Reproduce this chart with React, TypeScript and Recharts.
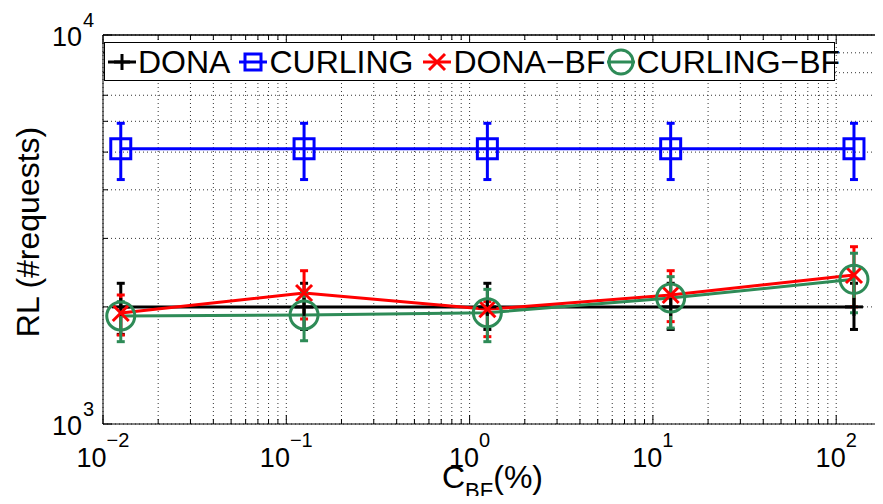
import React from 'react';
import {
  LineChart,
  Line,
  XAxis,
  YAxis,
  CartesianGrid,
  ErrorBar,
  ReferenceLine,
} from 'recharts';

// cache size in % (x) and request latency (y)
const X_VALUES = [0.0125, 0.125, 1.25, 12.5, 125];

const DONA = [2000, 2000, 2000, 2000, 2000];
const DONA_LOW = [1700, 1750, 1750, 1750, 1750];
const DONA_HIGH = [2300, 2300, 2300, 2300, 2300];

const CURLING = [5100, 5100, 5100, 5100, 5100];
const CURLING_LOW = [4250, 4250, 4250, 4250, 4250];
const CURLING_HIGH = [5930, 5930, 5930, 5930, 5930];

const DONA_BF = [1929, 2172, 1972, 2146, 2415];
const DONA_BF_LOW = [1693, 1862, 1677, 1833, 2000];
const DONA_BF_HIGH = [2146, 2478, 2063, 2478, 2856];

const CURLING_BF = [1895, 1906, 1932, 2108, 2355];
const CURLING_BF_LOW = [1628, 1637, 1628, 1765, 1932];
const CURLING_BF_HIGH = [2063, 2188, 2219, 2392, 2748];

// axis ticks (log scale, minor ticks drawn as grid)
const X_TICKS = [
  0.01, 0.02, 0.03, 0.04, 0.05, 0.06, 0.07, 0.08, 0.09,
  0.1, 0.2, 0.3, 0.4, 0.5, 0.6, 0.7, 0.8, 0.9,
  1, 2, 3, 4, 5, 6, 7, 8, 9,
  10, 20, 30, 40, 50, 60, 70, 80, 90,
  100,
];
const X_MAJOR = [0.01, 0.1, 1, 10, 100];
const X_EXP = ['\u22122', '\u22121', '0', '1', '2'];

const Y_TICKS = [1000, 2000, 3000, 4000, 5000, 6000, 7000, 8000, 9000, 10000];
const Y_MAJOR = [1000, 10000];
const Y_EXP = ['3', '4'];

const SERIES_NAMES = ['DONA', 'CURLING', 'DONA\u2212BF', 'CURLING\u2212BF'];

const FONT = '"Liberation Sans", Arial, Helvetica, sans-serif';
const BLACK = '#000000';
const BLUE = '#0000ff';
const RED = '#ff0000';
const GREEN = '#2e8b57';

const data = X_VALUES.map((x, i) => ({
  x,
  dona: DONA[i],
  donaErr: [DONA[i] - DONA_LOW[i], DONA_HIGH[i] - DONA[i]],
  curling: CURLING[i],
  curlingErr: [CURLING[i] - CURLING_LOW[i], CURLING_HIGH[i] - CURLING[i]],
  donaBf: DONA_BF[i],
  donaBfErr: [DONA_BF[i] - DONA_BF_LOW[i], DONA_BF_HIGH[i] - DONA_BF[i]],
  curlingBf: CURLING_BF[i],
  curlingBfErr: [CURLING_BF[i] - CURLING_BF_LOW[i], CURLING_BF_HIGH[i] - CURLING_BF[i]],
}));

// markers
const PlusMark = ({ cx, cy, color, s = 9 }: any) => (
  <g stroke={color} strokeWidth={3} fill="none">
    <line x1={cx - s} x2={cx + s} y1={cy} y2={cy} />
    <line x1={cx} x2={cx} y1={cy - s} y2={cy + s} />
  </g>
);
const SquareMark = ({ cx, cy, color, s = 10 }: any) => (
  <rect x={cx - s} y={cy - s} width={2 * s} height={2 * s} stroke={color} strokeWidth={3} fill="none" />
);
const CrossMark = ({ cx, cy, color, s = 8 }: any) => (
  <g stroke={color} strokeWidth={3} fill="none">
    <line x1={cx - s} x2={cx + s} y1={cy - s} y2={cy + s} />
    <line x1={cx - s} x2={cx + s} y1={cy + s} y2={cy - s} />
  </g>
);
const CircleMark = ({ cx, cy, color, s = 14 }: any) => (
  <circle cx={cx} cy={cy} r={s} stroke={color} strokeWidth={3} fill="none" />
);

// ticks drawn inside the box, like matlab
const XTickBottom = ({ x, y, payload }: any) => {
  const idx = X_MAJOR.indexOf(payload.value);
  return (
    <g>
      <line x1={x} x2={x} y1={y} y2={y - (idx >= 0 ? 9 : 5)} stroke={BLACK} />
      {idx >= 0 && (
        <text x={x} y={y + 43} textAnchor="middle" fontFamily={FONT} fontSize={27} fill={BLACK}>
          <tspan>10</tspan>
          <tspan dy={-20} fontSize={20}>{X_EXP[idx]}</tspan>
        </text>
      )}
    </g>
  );
};
const XTickTop = ({ x, y, payload }: any) => {
  const major = X_MAJOR.includes(payload.value);
  return <line x1={x} x2={x} y1={y} y2={y + (major ? 9 : 5)} stroke={BLACK} />;
};
const YTick = ({ x, y, payload }: any) => {
  const idx = Y_MAJOR.indexOf(payload.value);
  return (
    <g>
      <line x1={x} x2={x + (idx >= 0 ? 9 : 5)} y1={y} y2={y} stroke={BLACK} />
      {idx >= 0 && (
        <g fontFamily={FONT} fill={BLACK}>
          <text x={x - 21} y={y + 11} textAnchor="end" fontSize={27}>10</text>
          <text x={x - 20} y={y - 8} textAnchor="start" fontSize={20}>{Y_EXP[idx]}</text>
        </g>
      )}
    </g>
  );
};

const XLabel = () => (
  <text x={442} y={488} fontFamily={FONT} fontSize={32} fill={BLACK}>
    <tspan>C</tspan>
    <tspan dy={10} fontSize={22}>BF</tspan>
    <tspan dy={-10}>(%)</tspan>
  </text>
);
const YLabel = () => (
  <text
    x={28}
    y={232}
    transform="rotate(-90 28 232)"
    textAnchor="middle"
    dominantBaseline="central"
    fontFamily={FONT}
    fontSize={32}
    fill={BLACK}
  >
    RL (#requests)
  </text>
);

const LEGEND_ITEMS = [
  { name: SERIES_NAMES[0], color: BLACK, Mark: PlusMark, gap: 8 },
  { name: SERIES_NAMES[1], color: BLUE, Mark: SquareMark, gap: 9 },
  { name: SERIES_NAMES[2], color: RED, Mark: CrossMark, gap: 0 },
  { name: SERIES_NAMES[3], color: GREEN, Mark: CircleMark, gap: 0 },
];

const LegendBox = () => (
  <div
    style={{
      position: 'absolute',
      left: 104,
      top: 42,
      width: 731,
      height: 39,
      border: '1px solid #000',
      background: '#fff',
      display: 'flex',
      alignItems: 'center',
      paddingLeft: 2,
      boxSizing: 'border-box',
      fontFamily: FONT,
      fontSize: 32,
      color: BLACK,
      lineHeight: 1,
    }}
  >
    {LEGEND_ITEMS.map(({ name, color, Mark, gap }) => (
      <div key={name} style={{ display: 'flex', alignItems: 'center', marginRight: gap }}>
        <svg width={30} height={36}>
          <line x1={1} x2={29} y1={18} y2={18} stroke={color} strokeWidth={3} />
          <Mark cx={15} cy={18} color={color} s={color === GREEN ? 12 : 8} />
        </svg>
        <span style={{ marginLeft: 1 }}>{name}</span>
      </div>
    ))}
  </div>
);

export default function App() {
  return (
    <div style={{ position: 'relative', width: 883, height: 504, margin: -8, background: '#fff', overflow: 'hidden' }}>
      <LineChart
        width={883}
        height={504}
        data={data}
        margin={{ top: 34, right: 0, bottom: 79, left: 0 }}
      >
        <CartesianGrid stroke="#333" strokeDasharray="1 3" />
        <XAxis
          dataKey="x"
          type="number"
          scale="log"
          domain={[0.01, 180]}
          allowDataOverflow
          ticks={X_TICKS}
          interval={0}
          height={1}
          tickSize={0}
          tickMargin={0}
          tick={<XTickBottom />}
          axisLine={{ stroke: BLACK }}
          label={<XLabel />}
        />
        <XAxis
          xAxisId="top"
          dataKey="x"
          type="number"
          scale="log"
          orientation="top"
          height={1}
          domain={[0.01, 180]}
          allowDataOverflow
          ticks={X_TICKS}
          interval={0}
          tickSize={0}
          tickMargin={0}
          tick={<XTickTop />}
          axisLine={{ stroke: BLACK }}
        />
        <YAxis
          type="number"
          scale="log"
          domain={[1000, 10000]}
          allowDataOverflow
          ticks={Y_TICKS}
          interval={0}
          width={103}
          tickSize={0}
          tickMargin={0}
          tick={<YTick />}
          axisLine={{ stroke: BLACK }}
          label={<YLabel />}
        />
        <ReferenceLine y={10000} stroke={BLACK} />
        <Line
          dataKey="dona"
          stroke={BLACK}
          strokeWidth={3}
          isAnimationActive={false}
          dot={(p: any) => <PlusMark key={`d${p.index}`} cx={p.cx} cy={p.cy} color={BLACK} />}
        >
          <ErrorBar dataKey="donaErr" direction="y" width={4} strokeWidth={3} stroke={BLACK} isAnimationActive={false} />
        </Line>
        <Line
          dataKey="curling"
          stroke={BLUE}
          strokeWidth={3}
          isAnimationActive={false}
          dot={(p: any) => <SquareMark key={`c${p.index}`} cx={p.cx} cy={p.cy} color={BLUE} />}
        >
          <ErrorBar dataKey="curlingErr" direction="y" width={4} strokeWidth={3} stroke={BLUE} isAnimationActive={false} />
        </Line>
        <Line
          dataKey="donaBf"
          stroke={RED}
          strokeWidth={3}
          isAnimationActive={false}
          dot={(p: any) => <CrossMark key={`r${p.index}`} cx={p.cx} cy={p.cy} color={RED} />}
        >
          <ErrorBar dataKey="donaBfErr" direction="y" width={4} strokeWidth={3} stroke={RED} isAnimationActive={false} />
        </Line>
        <Line
          dataKey="curlingBf"
          stroke={GREEN}
          strokeWidth={3}
          isAnimationActive={false}
          dot={(p: any) => <CircleMark key={`g${p.index}`} cx={p.cx} cy={p.cy} color={GREEN} />}
        >
          <ErrorBar dataKey="curlingBfErr" direction="y" width={4} strokeWidth={3} stroke={GREEN} isAnimationActive={false} />
        </Line>
      </LineChart>
      <LegendBox />
    </div>
  );
}
